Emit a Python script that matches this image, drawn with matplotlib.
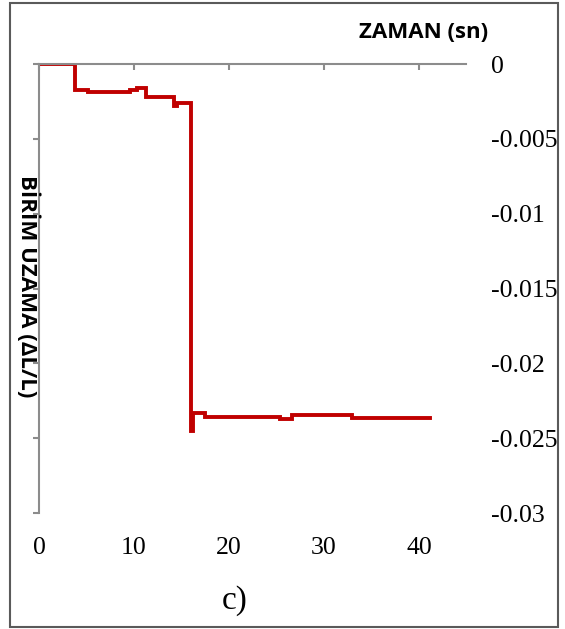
import matplotlib.pyplot as plt
from matplotlib.patches import Rectangle

# time (s) and unit strain, held constant until the next reading
zaman = [0, 3.8, 5.2, 9.6, 10.3, 11.3, 14.2, 14.5, 16.05, 16.25, 17.5,
         25.4, 26.6, 32.9, 35.2, 41.2]
uzama = [0, -0.00174, -0.00187, -0.00174, -0.0016, -0.00217, -0.0028,
         -0.0026, -0.0245, -0.02332, -0.02357, -0.02369, -0.02345,
         -0.02363, -0.02368, -0.02368]

x_ticks = [0, 10, 20, 30, 40]
y_ticks = [0, -0.005, -0.01, -0.015, -0.02, -0.025, -0.03]
y_tick_labels = ['0', '-0.005', '-0.01', '-0.015', '-0.02', '-0.025', '-0.03']

serif = ['Liberation Serif', 'DejaVu Serif']
sans = ['Open Sans', 'DejaVu Sans']

fig = plt.figure(figsize=(5.65, 6.29), dpi=100)
ax = fig.add_axes([0.069, 0.1844, 0.7566, 0.7138])

ax.plot(zaman, uzama, drawstyle='steps-post', color='#C00000',
        lw=2.8, solid_joinstyle='miter')

ax.set_xlim(0, 45)
ax.set_ylim(-0.03, 0)
ax.set_xticks(x_ticks)
ax.set_xticklabels([str(t) for t in x_ticks], family=serif, fontsize=18.5)
ax.set_yticks(y_ticks)
ax.set_yticklabels(y_tick_labels, family=serif, fontsize=18.5)

for side in ('bottom', 'right'):
    ax.spines[side].set_visible(False)
for side in ('top', 'left'):
    ax.spines[side].set_color('#8c8c8c')
    ax.spines[side].set_linewidth(1.5)

ax.tick_params(axis='x', top=True, bottom=False, labeltop=False,
               labelbottom=True, direction='in', length=4.5, width=1.5,
               color='#8c8c8c', pad=17)
ax.tick_params(axis='y', left=True, right=False, labelleft=False,
               labelright=True, direction='out', length=4.5, width=1.5,
               color='#8c8c8c', pad=13)
for lbl in ax.get_yticklabels():
    lbl.set_horizontalalignment('left')

fig.text(0.749, 0.949, 'ZAMAN (sn)', family=sans, fontweight='bold',
         fontsize=16, ha='center', va='center')
fig.text(0.050, 0.545, 'BİRİM UZAMA (ΔL/L)', family=sans, fontweight='bold',
         fontsize=16, ha='center', va='center', rotation=-90)
fig.text(0.416, 0.045, 'c)', family=serif, fontsize=24,
         ha='center', va='center')

fig.patches.append(Rectangle((10 / 565, 1 - 627 / 629), 548 / 565, 624 / 629,
                             transform=fig.transFigure, fill=False,
                             edgecolor='#5a5a5a', lw=1.5))

fig.savefig('out.png', dpi=100)
